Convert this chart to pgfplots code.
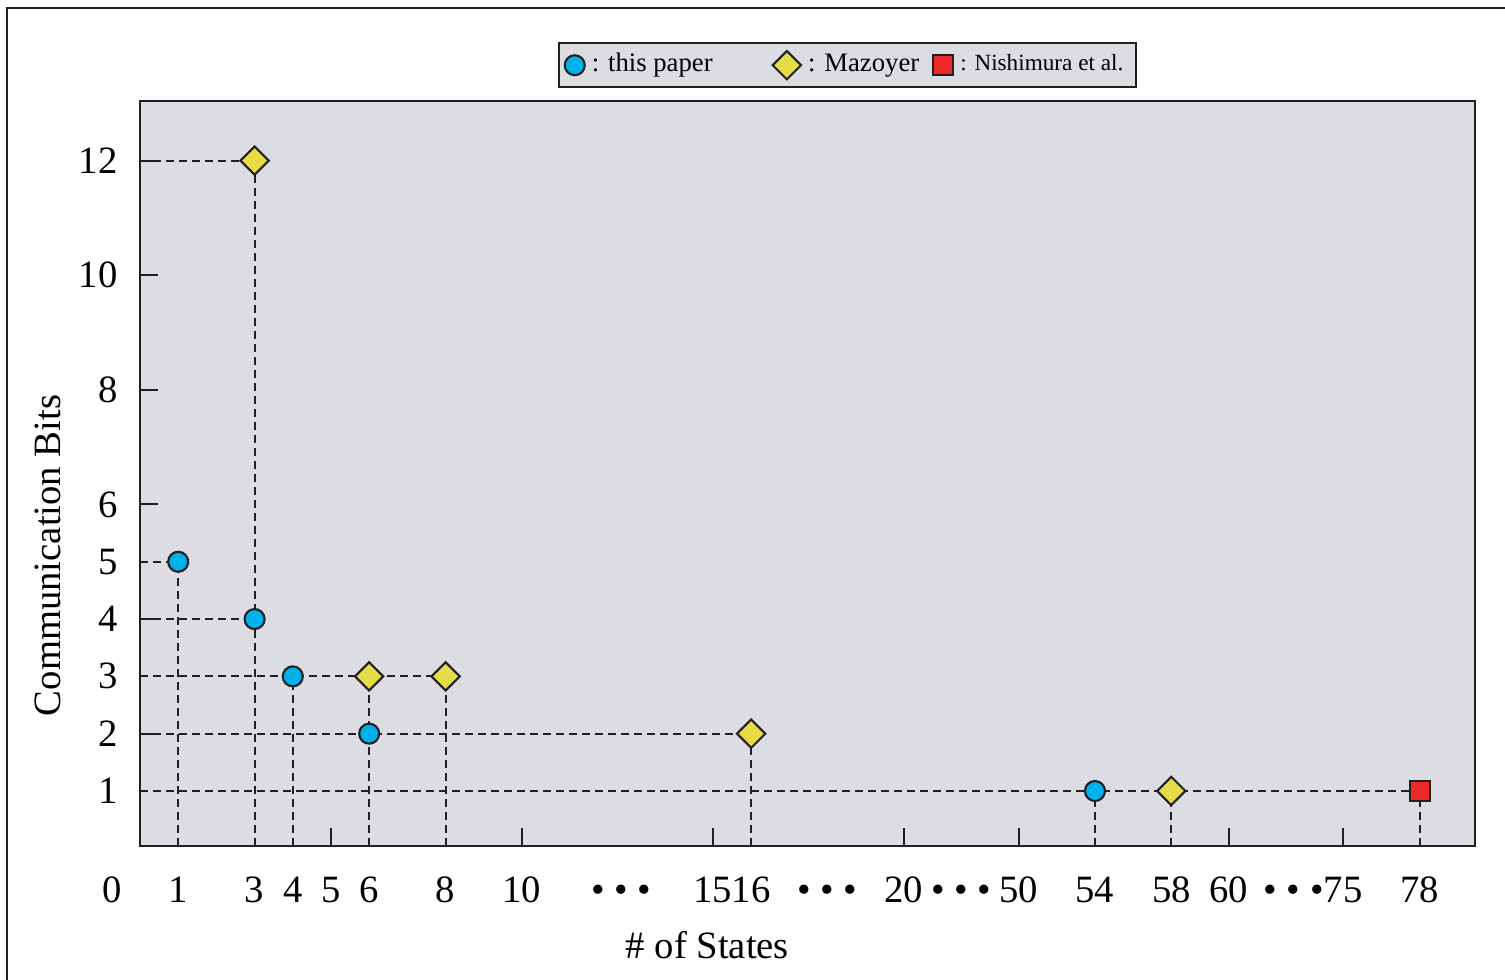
\documentclass[border=0pt]{standalone}
\usepackage{pgfplots}
\pgfplotsset{compat=1.18}
\usepackage{pgfplotstable}
\usepackage{fontspec}
\setmainfont{Liberation Serif}
\definecolor{bggray}{RGB}{220,221,226}
\definecolor{cyanm}{RGB}{0,178,235}
\definecolor{yellowm}{RGB}{229,220,72}
\definecolor{redm}{RGB}{236,40,41}
\definecolor{linec}{RGB}{35,31,32}
% x positions are on the chart's broken scale:
% states 1..20 -> 1..20, 50 -> 23, 54 -> 25, 58 -> 27, 60 -> 28.5, 75 -> 31.5, 78 -> 33.5
\pgfplotstableread{
x y
1 5
3 4
4 3
6 2
25 1
}\thispaper
\pgfplotstableread{
x y
3 12
6 3
8 3
16 2
27 1
}\mazoyer
\pgfplotstableread{
x y
33.5 1
}\nishimura
\begin{document}
\begin{tikzpicture}
\path[use as bounding box] (-1.40cm,-1.33cm) rectangle (13.65cm,8.46cm);
\draw[line width=0.6pt, linec] (-1.33cm,-1.50cm) -- (-1.33cm,8.38cm) -- (13.80cm,8.38cm);
\begin{axis}[
  at={(0,0)}, anchor=south west,
  scale only axis, width=13.35cm, height=7.45cm,
  xmin=0, xmax=34.95, ymin=0.04, ymax=13.04,
  axis background/.style={fill=bggray},
  axis line style={line width=0.6pt, linec},
  tick pos=left, tick align=inside,
  major tick length=1.8mm,
  tick style={line width=0.6pt, linec},
  xtick={5,10,15,20,23,28.5,31.5},
  xticklabels={5,10,15,20,50,60,75},
  extra x ticks={1,3,4,6,8,12.6,16,18,21.5,25,27,30.2,33.5},
  extra x tick labels={1,3,4,6,8,{\textbullet\ \textbullet\ \textbullet},16,{\textbullet\ \textbullet\ \textbullet},{\textbullet\ \textbullet\ \textbullet},54,58,{\textbullet\ \textbullet\ \textbullet},78},
  extra x tick style={major tick length=0pt},
  ytick={2,4,6,8,10,12},
  yticklabels={2,4,6,8,10,12},
  extra y ticks={1,3,5},
  extra y tick labels={1,3,5},
  extra y tick style={major tick length=0pt},
  xticklabel style={font=\fontsize{11}{13}\selectfont, anchor=base, yshift=-5.6mm},
  yticklabel style={font=\fontsize{11}{13}\selectfont, anchor=east, xshift=-1mm},
  xlabel={\# of States},
  ylabel={Communication Bits},
  label style={font=\fontsize{11}{13}\selectfont},
  xlabel style={at={(axis description cs:0.425,-0.133)}, anchor=center},
  ylabel style={at={(axis description cs:-0.069,0.39)}, anchor=center},
  legend columns=3,
  legend image code/.code={\draw[#1] plot coordinates {(0mm,0mm)};},
  legend style={at={(axis description cs:0.53,1.048)}, anchor=center,
    fill=bggray, draw=linec, line width=0.6pt, inner xsep=0.6mm, inner ysep=0.3mm,
    font=\fontsize{7.6}{9}\selectfont, legend cell align=left},
  guide/.style={linec, line width=0.55pt, dash pattern=on 0.8mm off 0.5mm, forget plot},
  clip=false,
]
% dashed guide lines
\addplot[guide] coordinates {(0,12) (3,12)};
\addplot[guide] coordinates {(0,5) (1,5)};
\addplot[guide] coordinates {(0,4) (3,4)};
\addplot[guide] coordinates {(0,3) (8,3)};
\addplot[guide] coordinates {(0,2) (16,2)};
\addplot[guide] coordinates {(0,1) (33.5,1)};
\addplot[guide] coordinates {(1,0.04) (1,5)};
\addplot[guide] coordinates {(3,0.04) (3,12)};
\addplot[guide] coordinates {(4,0.04) (4,3)};
\addplot[guide] coordinates {(6,0.04) (6,3)};
\addplot[guide] coordinates {(8,0.04) (8,3)};
\addplot[guide] coordinates {(16,0.04) (16,2)};
\addplot[guide] coordinates {(25,0.04) (25,1)};
\addplot[guide] coordinates {(27,0.04) (27,1)};
\addplot[guide] coordinates {(33.5,0.04) (33.5,1)};
% markers
\addplot[only marks, mark=*, mark size=1mm, mark options={fill=cyanm, draw=linec, line width=0.6pt}] table {\thispaper};
\addlegendentry{: this paper\rule{5.3mm}{0pt}}
\addplot[only marks, mark=square*, mark size=1mm, mark options={rotate=45, fill=yellowm, draw=linec, line width=0.6pt}] table {\mazoyer};
\addlegendentry{: Mazoyer\rule{0.7mm}{0pt}}
\addplot[only marks, mark=square*, mark size=1mm, mark options={fill=redm, draw=linec, line width=0.6pt}] table {\nishimura};
\addlegendentry{{\fontsize{6.6}{8}\selectfont : Nishimura et al.}}
\node[font=\fontsize{11}{13}\selectfont, anchor=base] at (axis description cs:-0.021,0) [yshift=-5.6mm] {0};
\end{axis}
\end{tikzpicture}
\end{document}
